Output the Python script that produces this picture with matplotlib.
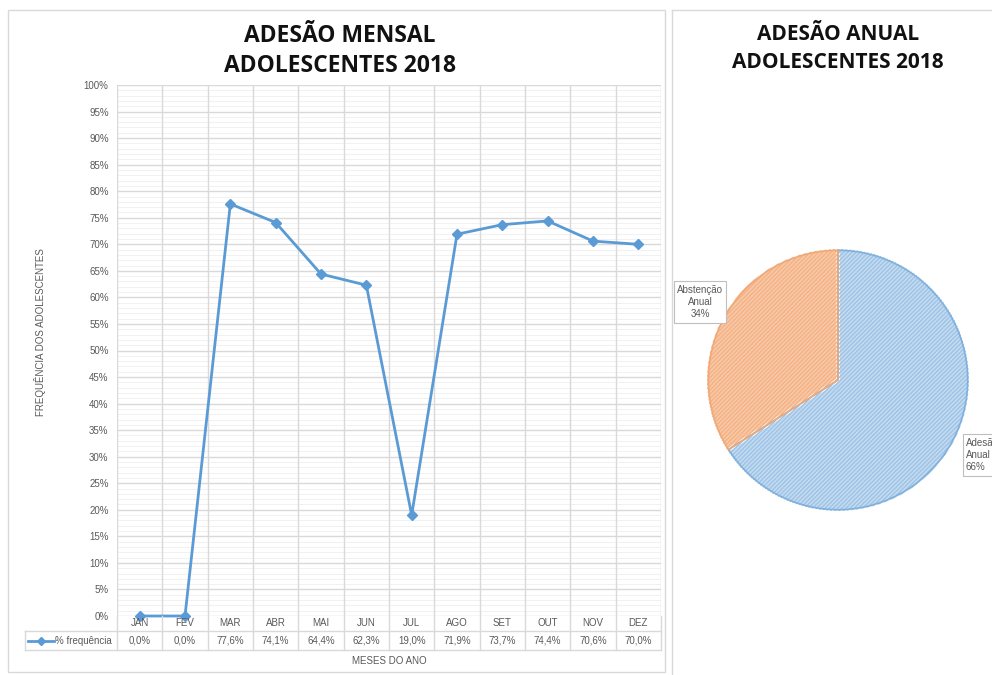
import numpy as np
import matplotlib.pyplot as plt
from matplotlib.patches import Rectangle
from matplotlib.lines import Line2D

# data
meses = ['JAN', 'FEV', 'MAR', 'ABR', 'MAI', 'JUN', 'JUL', 'AGO', 'SET', 'OUT', 'NOV', 'DEZ']
freq = [0.0, 0.0, 77.6, 74.1, 64.4, 62.3, 19.0, 71.9, 73.7, 74.4, 70.6, 70.0]
pie_labels = ['Adesão\nAnual', 'Abstenção\nAnual']
pie_vals = [66, 34]

W, H = 992, 675
fig = plt.figure(figsize=(W / 100, H / 100), dpi=100)
fig.patch.set_facecolor('white')

def fx(px):
    return px / W

def fy(py):
    return 1 - py / H

gray = '#595959'
line_col = '#5b9bd5'
grid_col = '#d9d9d9'

# chart frames
fig.add_artist(Rectangle((fx(8), fy(672)), fx(665) - fx(8), fy(10) - fy(672),
                         transform=fig.transFigure, fill=False, ec='#d9d9d9', lw=1))
fig.add_artist(Line2D([fx(672), fx(672)], [fy(10), fy(675)], transform=fig.transFigure,
                      color='#d9d9d9', lw=1))
fig.add_artist(Line2D([fx(672), 1], [fy(10), fy(10)], transform=fig.transFigure,
                      color='#d9d9d9', lw=1))

# ---- line chart ----
x0, x1, ytop, ybot = 117, 661, 85, 616
ax = fig.add_axes([fx(x0), fy(ybot), fx(x1) - fx(x0), fy(ytop) - fy(ybot)])
n = len(meses)
x = np.arange(n)
ax.set_xlim(-0.5, n - 0.5)
ax.set_ylim(0, 100)
ax.set_yticks(np.arange(0, 101, 5))
ax.set_yticklabels(['%d%%' % v for v in range(0, 101, 5)], fontsize=7, color=gray,
                   family='Liberation Sans')
ax.tick_params(axis='y', which='both', length=0, pad=6)
ax.set_xticks([])
ax.grid(False)
for v in range(0, 101):
    if v % 5:
        ax.axhline(v, color='#efefef', lw=0.6, zorder=0)
    else:
        ax.axhline(v, color=grid_col, lw=1, zorder=0)
for k in range(n + 1):
    ax.axvline(k - 0.5, color=grid_col, lw=1, zorder=0)
for s in ax.spines.values():
    s.set_visible(False)
ax.plot(x, freq, color=line_col, lw=2, marker='D', ms=5, zorder=3, clip_on=False)

# data table below the axis
cat_w = (x1 - x0) / n
row1 = (616, 631)
row2 = (631, 650)
tcol = '#d9d9d9'
for k in range(n + 1):
    xx = fx(x0 + k * cat_w)
    fig.add_artist(Line2D([xx, xx], [fy(row2[1]), fy(row1[0])], transform=fig.transFigure,
                          color=tcol, lw=1))
fig.add_artist(Line2D([fx(25), fx(x1)], [fy(row2[0]), fy(row2[0])], transform=fig.transFigure, color=tcol, lw=1))
fig.add_artist(Line2D([fx(25), fx(x1)], [fy(row2[1]), fy(row2[1])], transform=fig.transFigure, color=tcol, lw=1))
fig.add_artist(Line2D([fx(25), fx(25)], [fy(row2[0]), fy(row2[1])], transform=fig.transFigure, color=tcol, lw=1))
for k, (m, v) in enumerate(zip(meses, freq)):
    cx = fx(x0 + (k + 0.5) * cat_w)
    fig.text(cx, fy(sum(row1) / 2), m, ha='center', va='center', fontsize=7, color=gray,
             family='Liberation Sans')
    fig.text(cx, fy(sum(row2) / 2), ('%.1f%%' % v).replace('.', ','), ha='center', va='center',
             fontsize=7, color=gray, family='Liberation Sans')
# legend key
fig.add_artist(Line2D([fx(28), fx(54)], [fy(641), fy(641)], transform=fig.transFigure,
                      color=line_col, lw=2))
fig.add_artist(Line2D([fx(41)], [fy(641)], transform=fig.transFigure,
                      color=line_col, marker='D', ms=4, lw=0))
fig.text(fx(55), fy(641), '% frequência', ha='left', va='center', fontsize=7, color=gray,
         family='Liberation Sans')

fig.text(fx(389), fy(661), 'MESES DO ANO', ha='center', va='center', fontsize=7, color=gray,
         family='Liberation Sans')
fig.text(fx(40), fy(332), 'FREQUÊNCIA DOS ADOLESCENTES', ha='center', va='center', rotation=90,
         fontsize=7, color=gray, family='Liberation Sans')

fig.text(fx(340), fy(36), 'ADESÃO MENSAL', ha='center', va='center',
         fontsize=16.5, fontweight='bold', family='Open Sans', color='#111111')
fig.text(fx(340), fy(66), 'ADOLESCENTES 2018', ha='center', va='center',
         fontsize=16.5, fontweight='bold', family='Open Sans', color='#111111')

# ---- pie chart ----
fig.text(fx(838), fy(34), 'ADESÃO ANUAL', ha='center', va='center',
         fontsize=15, fontweight='bold', family='Open Sans', color='#111111')
fig.text(fx(838), fy(62), 'ADOLESCENTES 2018', ha='center', va='center',
         fontsize=15, fontweight='bold', family='Open Sans', color='#111111')

cx, cy, r = 838, 380, 131
pax = fig.add_axes([fx(cx - r), fy(cy + r), fx(2 * r), fy(cy - r) - fy(cy + r)])
face = ['#c5dbf0', '#f8c9a8']
hatch_col = ['#9dc3e6', '#f4b183']
edge = ['#7fb0de', '#f0a877']
wedges, _ = pax.pie(pie_vals, startangle=90, counterclock=False, radius=1,
                    colors=face, wedgeprops=dict(edgecolor='white', linewidth=2.5))
wedges2, _ = pax.pie(pie_vals, startangle=90, counterclock=False, radius=1,
                     colors=['none', 'none'], wedgeprops=dict(linewidth=0))
for w, hc in zip(wedges2, hatch_col):
    w.set_hatch('////////')
    w.set_edgecolor(hc)
    w.set_linewidth(0)
wedges3, _ = pax.pie(pie_vals, startangle=90, counterclock=False, radius=0.99,
                     colors=['none', 'none'], wedgeprops=dict(linewidth=1.2))
for w, ec in zip(wedges3, edge):
    w.set_edgecolor(ec)
pax.set_xlim(-1, 1)
pax.set_ylim(-1, 1)
pax.axis('off')

box = dict(boxstyle='square,pad=0.35', fc='white', ec='#bfbfbf', lw=0.8)
fig.text(fx(700), fy(302), '%s\n%d%%' % (pie_labels[1], pie_vals[1]), ha='center', va='center',
         fontsize=7, color=gray, family='Liberation Sans', bbox=box, linespacing=1.3)
fig.text(fx(966), fy(455), '%s\n%d%%' % (pie_labels[0], pie_vals[0]), ha='left', va='center',
         fontsize=7, color=gray, family='Liberation Sans', bbox=box, linespacing=1.3)

fig.savefig('out.png', dpi=100)
